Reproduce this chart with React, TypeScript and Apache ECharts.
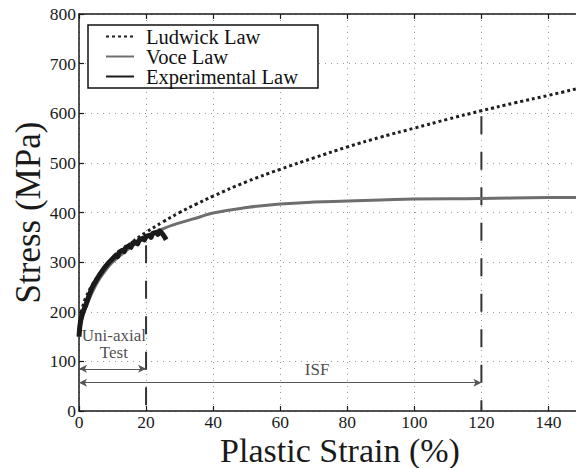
import React, { useEffect, useRef } from "react";
import * as echarts from "echarts";

// Ludwick law (dotted)
const ludX = [0, 0.5, 1, 2, 4, 6, 8, 10, 13, 16, 20, 25, 30, 35, 40, 50, 60, 70, 80, 90, 100, 110, 120, 130, 140, 150];
const ludY = [150, 193, 208, 228, 255, 275, 292, 306, 324, 341, 360, 381, 400, 417, 433, 462, 487, 510, 532, 552, 570, 588, 605, 621, 636, 652];

// Voce law (gray)
const voceX = [0, 0.5, 1, 2, 4, 6, 8, 10, 13, 16, 20, 25, 30, 36, 40, 50, 60, 70, 80, 90, 100, 120, 140, 150];
const voceY = [150, 175, 190, 208, 240, 265, 284, 300, 317, 333, 349, 367, 379, 391, 399, 410, 417, 421, 423, 425, 427, 428, 430, 430];

// Experimental (noisy, black)
const expX = [0, 0.2, 0.5, 1, 1.5, 2, 3, 4, 5, 6, 7, 8, 9, 10, 11, 11.5, 12, 13, 13.5, 14, 15, 15.5, 16, 17, 17.5, 18, 19, 19.5, 20, 21, 21.5, 22, 23, 23.5, 24, 24.5, 25, 25.5, 26];
const expY = [150, 168, 182, 195, 205, 213, 233, 250, 262, 273, 283, 292, 300, 307, 314, 311, 320, 324, 321, 330, 333, 330, 338, 340, 337, 345, 348, 345, 352, 354, 350, 358, 360, 356, 363, 360, 356, 351, 345];

// Annotations
const dashLines = [
  { x: 20, top: 345 },
  { x: 120, top: 605 },
];
const arrows = [
  { from: 0, to: 20, y: 85 },
  { from: 0, to: 120, y: 57 },
];
const notes = [
  { x: 10.4, y: 153, text: "Uni-axial" },
  { x: 10.4, y: 117, text: "Test" },
  { x: 71, y: 83, text: "ISF" },
];

const xTicks = { min: 0, max: 150, interval: 20 };
const yTicks = { min: 0, max: 800, interval: 100 };

const FONT = "Liberation Serif";

const zip = (xs: number[], ys: number[]) => xs.map((x, i) => [x, ys[i]]);

export default function App() {
  const ref = useRef<HTMLDivElement>(null);
  useEffect(() => {
    if (!ref.current) return;
    const chart = echarts.init(ref.current, undefined, { renderer: "svg" });
    const axisColor = "#1a1a1a";
    const split = { show: true, lineStyle: { color: "#9a9a9a", type: [1, 5] as any, width: 1 } };
    const series: any[] = [
      {
        name: "Ludwick Law",
        type: "line",
        data: zip(ludX, ludY),
        symbol: "none",
        smooth: true,
        lineStyle: { color: "#1e1e1e", width: 3, type: [3, 3], cap: "butt" },
        itemStyle: { color: "#1e1e1e" },
        z: 3,
      },
      {
        name: "Voce Law",
        type: "line",
        data: zip(voceX, voceY),
        symbol: "none",
        smooth: true,
        lineStyle: { color: "#6e6e6e", width: 3 },
        itemStyle: { color: "#6e6e6e" },
        z: 4,
      },
      {
        name: "Experimental Law",
        type: "line",
        data: zip(expX, expY),
        symbol: "none",
        lineStyle: { color: "#1a1a1a", width: 5, join: "round" },
        itemStyle: { color: "#1a1a1a" },
        z: 5,
      },
    ];
    dashLines.forEach((d, i) => {
      series.push({
        name: "dash" + i,
        type: "line",
        data: [
          [d.x, d.top],
          [d.x, 0],
        ],
        symbol: "none",
        lineStyle: { color: "#333", width: 2, type: [18, 17.5], dashOffset: 30 },
        z: 2,
      });
    });
    series.push({
      name: "arrows",
      type: "line",
      data: [],
      markLine: {
        silent: true,
        symbol: ["arrow", "arrow"],
        symbolSize: [6, 8],
        label: { show: false },
        lineStyle: { color: "#555", width: 1, type: "solid" },
        data: arrows.map((a) => [
          { coord: [a.from, a.y] },
          { coord: [a.to, a.y] },
        ]),
      },
    });
    series.push({
      name: "notes",
      type: "scatter",
      symbolSize: 0,
      data: notes.map((n) => ({ value: [n.x, n.y], name: n.text })),
      label: {
        show: true,
        position: "inside",
        formatter: (p: any) => p.name,
        fontFamily: FONT,
        fontSize: 17,
        lineHeight: 17,
        color: "#1a1a1a",
      },
      z: 6,
    });
    chart.setOption({
      animation: false,
      backgroundColor: "#fff",
      textStyle: { fontFamily: FONT },
      grid: { left: 79, right: -6, top: 14, bottom: 57, containLabel: false, outerBoundsMode: "none" },
      legend: {
        orient: "vertical",
        left: 88,
        top: 25,
        data: ["Ludwick Law", "Voce Law", "Experimental Law"],
        selectedMode: false,
        backgroundColor: "#fff",
        borderColor: "#111",
        borderWidth: 1.5,
        borderRadius: 0,
        padding: [1, 20, 1, 17],
        itemGap: -1,
        itemWidth: 28,
        itemHeight: 14,
        itemStyle: { opacity: 0 },
        textStyle: { fontFamily: FONT, fontSize: 20.5, color: "#111", lineHeight: 19, padding: [0, 0, 0, 7] },
      },
      xAxis: [
        {
          type: "value",
          ...xTicks,
          name: "Plastic Strain (%)",
          nameLocation: "middle",
          nameGap: 39,
          nameMoveOverlap: false,
          nameTextStyle: { fontFamily: FONT, fontSize: 34, lineHeight: 30, color: "#1a1a1a", padding: [0, 0, 0, 19], verticalAlign: "middle" },
          axisLine: { show: true, lineStyle: { color: axisColor, width: 1.5 } },
          axisTick: { show: true, inside: true, length: 5, lineStyle: { color: axisColor, width: 1.2 } },
          axisLabel: { fontFamily: FONT, fontSize: 17.5, lineHeight: 14, color: "#1a1a1a", margin: 4, showMaxLabel: false },
          splitLine: split,
        },
        {
          type: "value",
          position: "top",
          ...xTicks,
          axisLine: { show: true, lineStyle: { color: axisColor, width: 1.5 } },
          axisTick: { show: true, inside: true, length: 5, lineStyle: { color: axisColor, width: 1.2 } },
          axisLabel: { show: false },
          splitLine: { show: false },
        },
      ],
      yAxis: {
        type: "value",
        ...yTicks,
        name: "Stress (MPa)",
        nameLocation: "middle",
        nameGap: 51,
        nameMoveOverlap: false,
        nameTextStyle: { fontFamily: FONT, fontSize: 35, color: "#1a1a1a", verticalAlign: "middle" },
        axisLine: { show: true, lineStyle: { color: axisColor, width: 1.5 } },
        axisTick: { show: true, inside: true, length: 5, lineStyle: { color: axisColor, width: 1.2 } },
        axisLabel: { fontFamily: FONT, fontSize: 17.5, color: "#1a1a1a", margin: 3 },
        splitLine: split,
      },
      series,
    });
    return () => chart.dispose();
  }, []);
  return (
    <div
      ref={ref}
      style={{ position: "fixed", left: 0, top: 0, width: 576, height: 468, overflow: "hidden" }}
    />
  );
}
